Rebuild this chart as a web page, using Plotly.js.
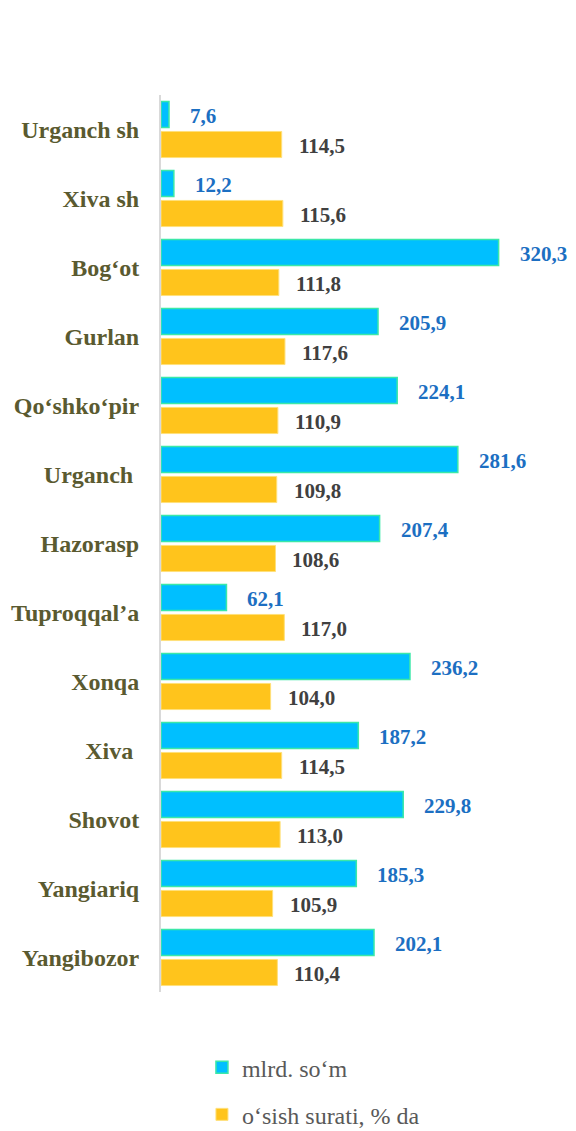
<!DOCTYPE html>
<html>
<head>
<meta charset="utf-8">
<script src="https://cdn.plot.ly/plotly-3.0.1.min.js"></script>
<style>html,body{margin:0;padding:0;background:#fff;}#chart{width:576px;height:1131px;}</style>
</head>
<body>
<div id="chart"></div>
<script>
const categories = ["Urganch sh", "Xiva sh", "Bog‘ot", "Gurlan", "Qo‘shko‘pir", "Urganch ", "Hazorasp", "Tuproqqal’a", "Xonqa", "Xiva ", "Shovot", "Yangiariq", "Yangibozor"];
const volume = [7.6, 12.2, 320.3, 205.9, 224.1, 281.6, 207.4, 62.1, 236.2, 187.2, 229.8, 185.3, 202.1];
const growth = [114.5, 115.6, 111.8, 117.6, 110.9, 109.8, 108.6, 117.0, 104.0, 114.5, 113.0, 105.9, 110.4];
const seriesNames = ["mlrd. so‘m", "o‘sish surati, % da"];

const fmt = v => v.toFixed(1).replace('.', ',');
const serif = "Liberation Serif, Times New Roman, Tinos, DejaVu Serif, serif";

const traces = [
  {type: 'bar', orientation: 'h', name: seriesNames[0], y: categories, x: volume,
   legendgroup: 'a', hoverinfo: 'none',
   marker: {color: '#00BFFF', line: {color: '#3BE8A8', width: 1.5}}},
  {type: 'bar', orientation: 'h', name: seriesNames[1], y: categories, x: growth,
   legendgroup: 'b', hoverinfo: 'none',
   marker: {color: '#FFC41C', line: {color: '#FFE07A', width: 1}}}
];

const annotations = [];
categories.forEach((c, i) => {
  annotations.push({x: volume[i], y: c, xref: 'x', yref: 'y', text: '<b>' + fmt(volume[i]) + '</b>',
    showarrow: false, xanchor: 'left', yanchor: 'middle', xshift: 19, yshift: 14,
    font: {family: serif, size: 21, color: '#1C6FC2'}});
  annotations.push({x: growth[i], y: c, xref: 'x', yref: 'y', text: '<b>' + fmt(growth[i]) + '</b>',
    showarrow: false, xanchor: 'left', yanchor: 'middle', xshift: 15, yshift: -16,
    font: {family: serif, size: 21, color: '#404040'}});
});

const layout = {
  width: 576, height: 1131,
  font: {family: serif},
  margin: {l: 161, r: 25, t: 95, b: 139, autoexpand: false},
  paper_bgcolor: '#ffffff', plot_bgcolor: '#ffffff',
  barmode: 'group', bargap: 0.13, bargroupgap: 0.13,
  showlegend: true,
  legend: {x: 0.105, xanchor: 'left', y: 0.076, yref: 'container', yanchor: 'top', orientation: 'v',
    traceorder: 'grouped', tracegroupgap: 13,
    font: {family: serif, size: 24, color: '#595959'}},
  xaxis: {range: [0, 370], visible: false, fixedrange: true},
  yaxis: {type: 'category', autorange: 'reversed', showline: true, linecolor: '#D9D9D9', linewidth: 2,
    showgrid: false, zeroline: false, ticks: '', ticklabelstandoff: 15,
    tickfont: {family: serif, size: 24, color: '#5A5A30', weight: 'bold'}},
  annotations: annotations
};

Plotly.newPlot('chart', traces, layout, {displayModeBar: false, staticPlot: true});
</script>
</body>
</html>
